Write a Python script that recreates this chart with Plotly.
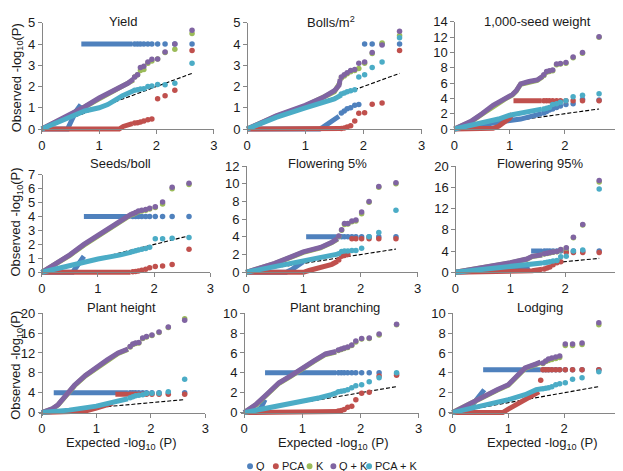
import plotly.graph_objects as go

# ---------------- data ----------------
SERIES = ["Q", "PCA", "K", "Q + K", "PCA + K"]
COLORS = ["#4F81BD", "#C0504D", "#9BBB59", "#8064A2", "#4BACC6"]
TRAITS = ["Yield", "Bolls/m<sup>2</sup>", "1,000-seed weight",
          "Seeds/boll", "Flowering 5%", "Flowering 95%",
          "Plant height", "Plant branching", "Lodging"]
Y_MAX = [5, 5, 14, 7, 12, 20, 20, 10, 10]
Y_DTICK = [1, 1, 2, 1, 2, 4, 4, 2, 2]
X_TICKS = [0, 1, 2, 3]
# expected -log10(P) of the top-ranked (separately visible) markers
EXPECTED_TOP = [2.62, 2.32, 2.15, 2.02, 1.92, 1.85, 1.78, 1.72, 1.67, 1.62, 1.58, 1.54]

# dense part of each QQ curve: (expected, observed); None breaks the line
yield_curve = {
    "Q": ([0, 0.45, 0.52, 0.6, 0.68, None, 0.69, 1.58], [0, 0, 0.4, 0.85, 1.15, None, 4, 4]),
    "PCA": ([0, 1.35, 1.42, 1.5, 1.58], [0, 0, 0.12, 0.2, 0.25]),
    "K": ([0, 0.5, 1.0, 1.5, 1.6], [0, 0.66, 1.42, 2.1, 2.3]),
    "Q + K": ([0, 0.25, 0.5, 0.75, 1.0, 1.25, 1.5, 1.6], [0, 0.33, 0.69, 1.05, 1.46, 1.8, 2.15, 2.35]),
    "PCA + K": ([0, 0.5, 0.75, 1.0, 1.15, 1.4, 1.5, 1.6], [0, 0.6, 0.85, 1.0, 1.15, 1.55, 1.7, 1.8]),
}
yield_top = {
    "Q": [4, 4, 4, 4, 4, 4, 4, 4, 4, 4],
    "PCA": [3.7, 1.82, 1.57, 1.42, 0.47, 0.44, 0.38, 0.33, 0.3, 0.28],
    "K": [4.5, 3.75, 3.6, 3.3, 3.2, 3.1, 2.8, 2.75, 2.55, 2.45],
    "Q + K": [4.65, 4.0, 3.62, 3.3, 3.28, 3.15, 2.95, 2.9, 2.55, 2.45],
    "PCA + K": [3.1, 2.15, 2.08, 2.09, 2.03, 2.0, 1.9, 1.88, 1.85, 1.82],
}

bolls_curve = {
    "Q": ([0, 1.25, 1.3, 1.4, 1.5, 1.58], [0, 0, 0.08, 0.25, 0.4, 0.6]),
    "PCA": ([0, 1.6, 1.62], [0, 0, 0.02]),
    "K": ([0, 0.5, 1.0, 1.3, 1.5, 1.6], [0, 0.6, 1.08, 1.45, 1.75, 2.2]),
    "Q + K": ([0, 0.5, 1.0, 1.3, 1.5, 1.58, 1.6], [0, 0.62, 1.12, 1.48, 1.8, 2.05, 2.35]),
    "PCA + K": ([0, 0.5, 1.0, 1.3, 1.5, 1.62], [0, 0.55, 1.0, 1.25, 1.42, 1.6]),
}
bolls_top = {
    "Q": [4.0, 4.0, 4.0, 4.0, 1.15, 1.12, 1.0, 0.95, 0.85, 0.75],
    "PCA": [3.7, 1.22, 1.17, 0.77, 0.74, 0.38, 0.15, 0.1, 0.05, 0.03],
    "K": [4.4, 4.05, 3.55, 3.1, 2.85, 2.75, 2.7, 2.6, 2.5, 2.4],
    "Q + K": [4.6, 3.95, 3.6, 3.15, 3.1, 2.8, 2.75, 2.65, 2.55, 2.45],
    "PCA + K": [4.3, 3.15, 2.9, 2.55, 2.45, 1.85, 1.8, 1.75, 1.7, 1.65],
}

seedwt_curve = {
    "Q": ([0, 0.5, 1.0, 1.2, 1.4, 1.58], [0, 0.62, 1.1, 1.3, 1.6, 2.0]),
    "PCA": ([0, 0.6, 0.7, 0.8, 0.9, 1.0, 1.05, None, 1.07, 1.58], [0, 0, 0.1, 0.35, 0.8, 1.4, 2.0, None, 3.7, 3.7]),
    "K": ([0, 0.3, 0.5, 0.7, 0.9, 1.05, 1.12, 1.2, 1.35, 1.5, 1.6], [0, 0.95, 1.95, 3.0, 3.85, 4.45, 4.95, 5.85, 6.15, 6.35, 6.85]),
    "Q + K": ([0, 0.3, 0.5, 0.7, 0.9, 1.05, 1.12, 1.2, 1.35, 1.5, 1.6], [0, 1.0, 2.0, 3.1, 3.9, 4.5, 5.0, 5.9, 6.2, 6.4, 6.9]),
    "PCA + K": ([0, 0.5, 0.8, 1.0, 1.2, 1.4, 1.58], [0, 0.8, 1.3, 1.8, 2.1, 2.35, 2.6]),
}
seedwt_top = {
    "Q": [3.8, 3.9, 3.3, 3.2, 3.0, 2.8, 2.6, 2.5, 2.3, 2.1],
    "PCA": [3.7, 3.7, 3.7, 3.7, 3.7, 3.7, 3.7, 3.7, 3.7, 3.7],
    "K": [12.0, 9.9, 9.3, 8.6, 8.5, 8.4, 7.6, 7.5, 7.4, 7.0],
    "Q + K": [12.05, 10.0, 9.4, 8.7, 8.55, 8.5, 7.7, 7.6, 7.5, 7.1],
    "PCA + K": [4.6, 4.4, 4.2, 3.7, 3.5, 3.3, 3.2, 2.8, 2.7, 2.6],
}

seeds_curve = {
    "Q": ([0, 0.55, 0.62, 0.7, 0.75, None, 0.75, 1.58], [0, 0, 0.4, 0.85, 1.15, None, 4, 4]),
    "PCA": ([0, 1.58], [0, 0]),
    "K": ([0, 0.25, 0.5, 0.75, 1.0, 1.25, 1.5, 1.6], [0, 0.58, 1.22, 1.95, 2.6, 3.25, 3.95, 4.15]),
    "Q + K": ([0, 0.25, 0.5, 0.75, 1.0, 1.25, 1.5, 1.6], [0, 0.6, 1.25, 2.0, 2.65, 3.3, 4.0, 4.2]),
    "PCA + K": ([0, 0.5, 1.0, 1.4, 1.6], [0, 0.5, 0.95, 1.25, 1.45]),
}
seeds_top = {
    "Q": [4, 4, 4, 4, 4, 4, 4, 4, 4, 4],
    "PCA": [1.65, 0.55, 0.45, 0.42, 0.32, 0.22, 0.15, 0.1, 0.05, 0.03],
    "K": [6.3, 6.0, 4.9, 4.65, 4.55, 4.45, 4.4, 4.35, 4.25, 4.15],
    "Q + K": [6.4, 6.1, 5.05, 4.7, 4.6, 4.5, 4.45, 4.4, 4.3, 4.2],
    "PCA + K": [2.5, 2.45, 2.4, 2.4, 1.8, 1.7, 1.65, 1.6, 1.55, 1.5],
}

fl5_curve = {
    "Q": ([0, 0.7, 0.8, 0.9, 1.0, None, 1.05, 1.58], [0, 0, 0.3, 0.8, 1.2, None, 4, 4]),
    "PCA": ([0, 1.0, 1.1, 1.3, 1.5, 1.6], [0, 0, 0.2, 0.5, 0.9, 1.25]),
    "K": ([0, 0.5, 1.0, 1.3, 1.5, 1.6], [0, 0.98, 2.25, 2.75, 3.35, 3.75]),
    "Q + K": ([0, 0.5, 1.0, 1.3, 1.5, 1.6], [0, 1.0, 2.3, 2.8, 3.4, 3.8]),
    "PCA + K": ([0, 0.5, 1.0, 1.3, 1.5, 1.6], [0, 0.6, 1.3, 1.6, 1.9, 2.05]),
}
fl5_top = {
    "Q": [4, 4, 4, 4, 4, 4, 4, 4, 4, 4],
    "PCA": [3.8, 3.8, 3.8, 3.8, 3.8, 3.8, 2.0, 1.9, 1.8, 1.4],
    "K": [10.0, 9.6, 7.9, 6.6, 5.8, 5.7, 5.45, 5.4, 4.75, 4.05],
    "Q + K": [10.1, 9.7, 8.0, 6.8, 5.9, 5.8, 5.5, 5.5, 4.8, 4.1],
    "PCA + K": [7.0, 4.5, 4.0, 2.7, 2.45, 2.45, 2.4, 2.4, 2.35, 2.1],
}

fl95_curve = {
    "Q": ([0, 1.0, 1.25, 1.35, None, 1.38, 1.58], [0, 0.4, 0.7, 1.0, None, 4, 4]),
    "PCA": ([0, 1.0, 1.4, 1.58], [0, 0.1, 0.3, 0.55]),
    "K": ([0, 0.5, 1.0, 1.3, 1.4, 1.58], [0, 0.78, 1.75, 2.45, 2.95, 3.25]),
    "Q + K": ([0, 0.5, 1.0, 1.3, 1.4, 1.58], [0, 0.8, 1.8, 2.5, 3.0, 3.3]),
    "PCA + K": ([0, 0.5, 1.0, 1.4, 1.58], [0, 0.5, 1.1, 1.5, 1.75]),
}
fl95_top = {
    "Q": [4, 4, 4, 4, 4, 4, 4, 4, 4, 4],
    "PCA": [3.7, 3.7, 3.7, 3.7, 2.0, 1.8, 1.4, 1.0, 0.8, 0.6],
    "K": [17.0, 8.9, 6.5, 4.5, 4.25, 3.85, 3.75, 3.65, 3.55, 3.45],
    "Q + K": [17.3, 9.0, 6.6, 4.6, 4.3, 3.9, 3.8, 3.7, 3.6, 3.5],
    "PCA + K": [15.7, 4.2, 4.0, 3.0, 2.9, 2.2, 2.1, 2.0, 1.9, 1.8],
}

height_curve = {
    "Q": ([0, 0.2, None, 0.22, 1.58], [0, 0.5, None, 4, 4]),
    "PCA": ([0, 0.5, 0.8, 1.0, 1.1, 1.2, 1.3, None, 1.35, 1.58], [0, 0.1, 0.3, 0.9, 1.2, 1.6, 1.9, None, 3.7, 3.7]),
    "K": ([0, 0.2, 0.3, 0.4, 0.5, 0.6, 0.8, 1.0, 1.2, 1.4, 1.58], [0, 0.75, 1.55, 2.9, 4.2, 5.4, 7.4, 8.9, 10.4, 11.9, 12.7]),
    "Q + K": ([0, 0.2, 0.3, 0.4, 0.5, 0.6, 0.8, 1.0, 1.2, 1.4, 1.58], [0, 0.8, 1.6, 3.0, 4.3, 5.5, 7.5, 9.2, 10.6, 12.0, 12.8]),
    "PCA + K": ([0, 0.5, 1.0, 1.3, 1.5, 1.58], [0, 0.5, 1.3, 2.0, 2.5, 2.8]),
}
height_top = {
    "Q": [4, 4, 4, 4, 4, 4, 4, 4, 4, 4],
    "PCA": [3.7, 3.7, 3.7, 3.7, 3.7, 3.7, 3.7, 3.7, 3.7, 3.7],
    "K": [18.9, 17.1, 16.1, 15.5, 15.2, 14.9, 14.0, 13.9, 13.7, 13.2],
    "Q + K": [18.6, 17.2, 16.2, 15.6, 15.3, 15.0, 14.1, 14.0, 13.8, 13.3],
    "PCA + K": [6.7, 4.2, 3.9, 3.9, 3.85, 3.6, 3.5, 3.4, 3.2, 3.0],
}

branch_curve = {
    "Q": ([0, 0.2, 0.3, 0.36, None, 0.36, 1.58], [0, 0, 0.6, 1.3, None, 4, 4]),
    "PCA": ([0, 1.55, 1.62], [0, 0, 0.1]),
    "K": ([0, 0.2, 0.4, 0.6, 0.8, 1.0, 1.2, 1.4, 1.58], [0, 0.75, 1.85, 2.95, 3.65, 4.45, 5.15, 5.85, 6.1]),
    "Q + K": ([0, 0.2, 0.4, 0.6, 0.8, 1.0, 1.2, 1.4, 1.58], [0, 0.8, 1.9, 3.0, 3.7, 4.5, 5.2, 5.9, 6.15]),
    "PCA + K": ([0, 0.5, 1.0, 1.3, 1.5, 1.6], [0, 0.55, 1.2, 1.5, 1.8, 2.0]),
}
branch_top = {
    "Q": [3.9, 4, 4, 4, 4, 4, 4, 4, 4, 4],
    "PCA": [3.75, 3.68, 2.05, 1.95, 1.3, 0.65, 0.55, 0.3, 0.2, 0.15],
    "K": [8.85, 7.8, 7.45, 7.4, 7.1, 6.75, 6.55, 6.45, 6.35, 6.25],
    "Q + K": [8.9, 7.9, 7.5, 7.45, 7.2, 6.8, 6.6, 6.5, 6.4, 6.3],
    "PCA + K": [4.0, 3.5, 3.1, 2.8, 2.7, 2.5, 2.3, 2.2, 2.15, 2.1],
}

lodging_curve = {
    "Q": ([0, 0.3, 0.36, 0.45, 0.57, None, 0.55, 1.58], [0, 0.3, 0.8, 1.5, 2.3, None, 4.3, 4.3]),
    "PCA": ([0, 0.9, 1.0, 1.2, 1.4, 1.55], [0, 0, 0.35, 1.0, 1.6, 2.1]),
    "K": ([0, 0.5, 0.8, 1.0, 1.2, 1.3, 1.5, 1.58], [0, 1.45, 2.25, 2.75, 3.85, 4.45, 4.85, 5.05]),
    "Q + K": ([0, 0.5, 0.8, 1.0, 1.2, 1.3, 1.5, 1.58], [0, 1.5, 2.3, 2.8, 3.9, 4.5, 4.9, 5.1]),
    "PCA + K": ([0, 0.5, 1.0, 1.3, 1.5, 1.6], [0, 0.6, 1.3, 1.8, 2.3, 2.4]),
}
lodging_top = {
    "Q": [4.3, 4.3, 4.3, 4.3, 4.3, 4.3, 4.3, 4.3, 4.3, 4.3],
    "PCA": [4.3, 4.3, 4.3, 4.3, 4.3, 4.3, 4.3, 4.3, 4.3, 4.3, 3.25],
    "K": [8.85, 6.85, 6.75, 6.75, 5.55, 5.45, 5.35, 5.25, 5.15, 4.95],
    "Q + K": [9.05, 7.0, 6.9, 6.9, 5.7, 5.6, 5.5, 5.4, 5.2, 5.0],
    "PCA + K": [4.1, 3.5, 3.35, 3.0, 2.9, 2.8, 2.6, 2.5, 2.45, 2.4],
}

PANELS = [(yield_curve, yield_top), (bolls_curve, bolls_top), (seedwt_curve, seedwt_top),
          (seeds_curve, seeds_top), (fl5_curve, fl5_top), (fl95_curve, fl95_top),
          (height_curve, height_top), (branch_curve, branch_top), (lodging_curve, lodging_top)]

# ---------------- layout geometry (pixels) ----------------
W, H = 623, 471
# (x of 0, x of 3, y of 0, y of top value)
AXES_PX = [(33, 206.5, 117, 8), (240, 416, 117, 8), (449, 616, 117, 7),
           (33, 203, 264, 164), (239, 412, 264, 155), (450, 616, 264, 155),
           (33, 198, 408, 306), (237, 413, 408, 306), (447, 616, 408, 306)]
TITLE_POS = [(115, 7), (325, 7), (533, 7), (112, 152), (321, 152), (535, 152),
             (113, 300), (329, 300), (535, 300)]
PAD = 3
FONT = "Liberation Sans, Arial, sans-serif"
AXC = "#868686"

fig = go.Figure()
layout = dict(width=W, height=H, margin=dict(l=0, r=0, t=0, b=0),
              paper_bgcolor="white", plot_bgcolor="white", showlegend=False,
              font=dict(family=FONT, size=13, color="#1a1a1a"))
annotations = []
shapes = []

for p, (curves, tops) in enumerate(PANELS):
    zx, x3, zy, ty = AXES_PX[p]
    sx = (x3 - zx) / 3.0
    sy = (zy - ty) / Y_MAX[p]
    xs = "" if p == 0 else str(p + 1)
    xa, ya = "x" + xs, "y" + xs
    layout["xaxis" + xs] = dict(
        domain=[(zx - PAD) / W, x3 / W], range=[-PAD / sx, 3], anchor="free",
        position=1 - zy / H, tickvals=X_TICKS, showgrid=False, zeroline=False,
        showline=True, linecolor=AXC, linewidth=1, ticks="outside", ticklen=4,
        tickcolor=AXC, tickfont=dict(size=13, family=FONT, color="#1a1a1a"))
    layout["yaxis" + xs] = dict(
        domain=[1 - (zy + PAD) / H, 1 - ty / H], range=[-PAD / sy, Y_MAX[p]], anchor="free",
        position=zx / W, dtick=Y_DTICK[p], tick0=0, showgrid=False, zeroline=False,
        showline=True, linecolor=AXC, linewidth=1, ticks="outside", ticklen=4,
        tickcolor=AXC, tickfont=dict(size=13, family=FONT, color="#1a1a1a"))
    # expected line
    fig.add_trace(go.Scatter(x=[0, EXPECTED_TOP[0]], y=[0, EXPECTED_TOP[0]], mode="lines",
                             line=dict(color="black", width=1.1, dash="4px,2px"),
                             xaxis=xa, yaxis=ya, hoverinfo="skip"))
    for s, name in enumerate(SERIES):
        cx, cy = curves[name]
        fig.add_trace(go.Scatter(x=cx, y=cy, mode="lines", name=name,
                                 line=dict(color=COLORS[s], width=5),
                                 xaxis=xa, yaxis=ya, connectgaps=False))
        ty_ = tops[name]
        fig.add_trace(go.Scatter(x=EXPECTED_TOP[:len(ty_)], y=ty_, mode="markers", name=name,
                                 marker=dict(color=COLORS[s], size=5.5),
                                 cliponaxis=False, xaxis=xa, yaxis=ya))
    tx, tyy = TITLE_POS[p]
    annotations.append(dict(text=TRAITS[p], x=tx / W, y=1 - tyy / H, xref="paper", yref="paper",
                            showarrow=False, xanchor="center", yanchor="middle",
                            font=dict(size=13, family=FONT, color="#1a1a1a")))

# y axis titles (one per row)
for yc in [64, 212, 359]:
    annotations.append(dict(text="Observed -log<sub>10</sub>(P)", x=8 / W, y=1 - yc / H,
                            xref="paper", yref="paper", showarrow=False, textangle=-90,
                            xanchor="center", yanchor="middle",
                            font=dict(size=13, family=FONT, color="#1a1a1a")))
# x axis titles (bottom row)
for xc in [113, 327, 538]:
    annotations.append(dict(text="Expected -log<sub>10</sub> (P)", x=xc / W, y=1 - 440 / H,
                            xref="paper", yref="paper", showarrow=False,
                            xanchor="center", yanchor="middle",
                            font=dict(size=13, family=FONT, color="#1a1a1a")))

# legend (dots + labels)
LEG_DOT_X = [243, 269, 303, 327, 363]
LEG_Y = 463
for s, name in enumerate(SERIES):
    dx = LEG_DOT_X[s]
    r = 3
    shapes.append(dict(type="circle", xref="paper", yref="paper",
                       x0=(dx - r) / W, x1=(dx + r) / W, y0=1 - (LEG_Y + r) / H, y1=1 - (LEG_Y - r) / H,
                       fillcolor=COLORS[s], line=dict(width=0)))
    annotations.append(dict(text=name, x=(dx + 5) / W, y=1 - LEG_Y / H, xref="paper", yref="paper",
                            showarrow=False, xanchor="left", yanchor="middle", borderpad=0,
                            font=dict(size=11, family=FONT, color="#1a1a1a")))

layout["annotations"] = annotations
layout["shapes"] = shapes
fig.update_layout(**layout)
fig.write_html("out.html")
